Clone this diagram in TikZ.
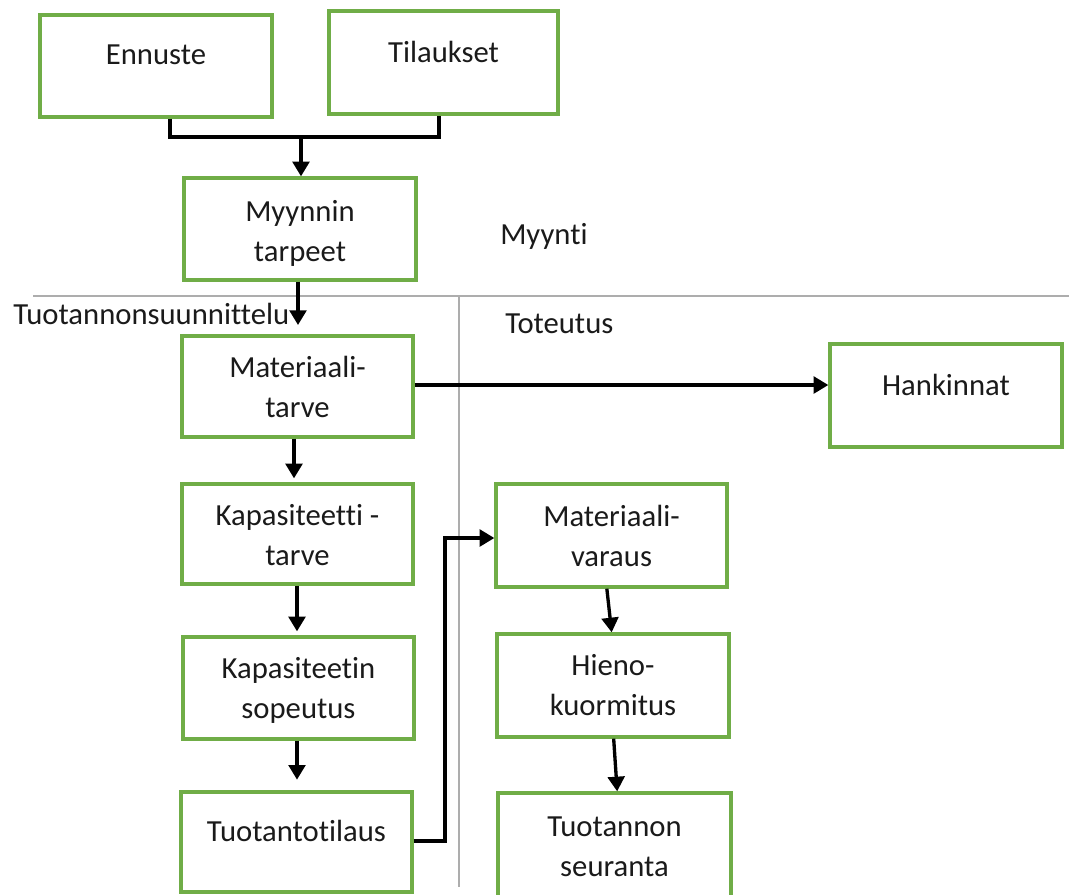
\documentclass[tikz,border=0pt]{standalone}
\usepackage{fontspec}
\setmainfont{Carlito}[Ligatures={NoCommon}]
\usetikzlibrary{arrows.meta,fit,calc}
\definecolor{boxgreen}{HTML}{70AD47}
\definecolor{divgray}{HTML}{ADADAD}
\definecolor{txt}{HTML}{1A1A1A}
\begin{document}
\begin{tikzpicture}[x=0.75pt,y=-0.75pt,
  font=\fontsize{23}{30}\selectfont, text=txt,
  box/.style={draw=boxgreen, line width=2.5pt, inner sep=0pt},
  every label/.style={align=center, inner sep=0pt},
  arr/.style={line width=2.5pt, -{Triangle[length=11pt,width=12.5pt]}},
  conn/.style={line width=2.5pt},
  div/.style={draw=divgray, line width=2pt},
  lbl/.style={inner sep=0pt}]
\useasboundingbox (0,0) rectangle (1069,894);

% dividers
\coordinate (hl) at (33,296);
\coordinate (hr) at (1069,296);
\coordinate (vt) at (459,296);
\coordinate (vb) at (459,887);
\draw[div] (hl) -- (hr);
\draw[div] (vt) -- (vb);

% boxes
\node[box, fit={(40,15) (272,117)}, label={[yshift=8.2pt]center:Ennuste}] (enn) {};
\node[box, fit={(329,11) (558,114)}, label={[yshift=8pt]center:Tilaukset}] (til) {};
\node[box, fit={(184,178) (416,280)}, label={[yshift=-3.5pt]center:Myynnin\\tarpeet}] (myy) {};
\node[box, fit={(182,336) (413,437)}, label={[yshift=-0.5pt]center:Materiaali-\\tarve}] (mt) {};
\node[box, fit={(830,344) (1062,447)}, label={[yshift=8pt]center:Hankinnat}] (han) {};
\node[box, fit={(182,484) (413,584)}, label={[yshift=-0.5pt]center:Kapasiteetti -\\tarve}] (kt) {};
\node[box, fit={(183,637) (414,739)}, label={[yshift=-1.5pt]center:Kapasiteetin\\sopeutus}] (ks) {};
\node[box, fit={(181,792) (412,892)}, label={[yshift=8.2pt]center:Tuotantotilaus}] (tt) {};
\node[box, fit={(496,484) (727,587)}, label={[yshift=0pt]center:Materiaali-\\varaus}] (mv) {};
\node[box, fit={(497,634) (729,737)}, label={[yshift=0.5pt]center:Hieno-\\kuormitus}] (hk) {};
\node[box, fit={(498,793) (731,900)}, label={[yshift=0pt]center:Tuotannon\\seuranta}] (ts) {};

% area labels
\node[lbl, anchor=west] (lmyy) at (500,236) {Myynti};
\node[lbl, anchor=west] (lsuu) at (13,314) {Tuotannonsuunnittelu};
\node[lbl, anchor=west] (ltot) at (505,324) {Toteutus};

% connectors
\coordinate (j1) at (170,137);
\coordinate (j2) at (439,137);
\coordinate (j) at (301,137);
\draw[conn] (enn.south -| j1) -- (j1) -- (j2) -- (til.south -| j2);
\draw[arr] (j) -- (myy.north -| j);
\coordinate (a1) at (298,283);
\coordinate (a2) at (298,325);
\draw[arr] (myy.south -| a1) -- (a2);
\coordinate (h1) at (0,385);
\draw[arr] (mt.east |- h1) -- (han.west |- h1);
\coordinate (b1) at (294,0);
\draw[arr] (mt.south -| b1) -- ([yshift=3pt]kt.north -| b1);
\coordinate (c1) at (297,0);
\draw[arr] (kt.south -| c1) -- ([yshift=3pt]ks.north -| c1);
\draw[arr] (ks.south -| c1) -- ([yshift=8pt]tt.north -| c1);
\coordinate (d1) at (445,0);
\coordinate (e1) at (0,841);
\coordinate (e2) at (0,538);
\draw[arr] (tt.east |- e1) -- (d1 |- e1) -- (d1 |- e2) -- (mv.west |- e2);
\draw[arr] ([xshift=-3.5pt]mv.south) -- ([xshift=-1pt]hk.north);
\draw[arr] ([xshift=0.5pt]hk.south) -- ([xshift=2pt]ts.north);
\end{tikzpicture}
\end{document}
